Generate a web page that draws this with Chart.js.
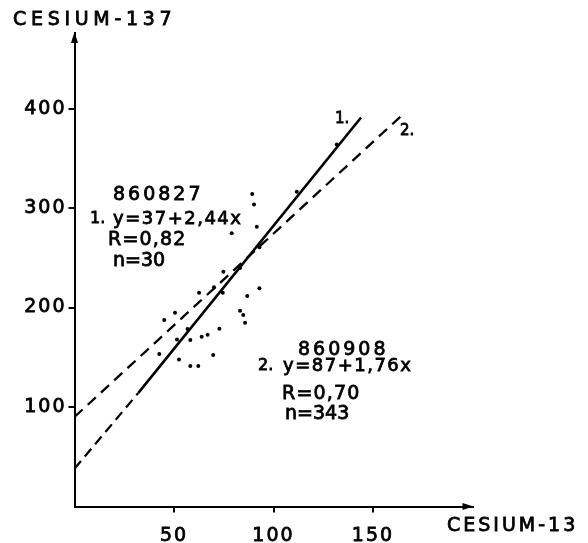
<!DOCTYPE html>
<html>
<head>
<meta charset="utf-8">
<script src="https://cdn.jsdelivr.net/npm/chart.js@4/dist/chart.umd.min.js"></script>
<style>
html,body{margin:0;padding:0;background:#fff;}
canvas{display:block;}
</style>
</head>
<body>
<canvas id="c" width="588" height="543"></canvas>
<script>
// ---- data ----
const xTicks = [50, 100, 150];
const yTicks = [100, 200, 300, 400];
const scatterX = [89.3, 90.2, 91.6, 79.0, 111.7, 131.8, 92.9, 74.8, 83.2, 70.1, 62.6, 74.5, 92.9, 86.8, 83.2, 84.8, 85.7, 50.5, 45.1, 56.8, 72.8, 66.9, 63.9, 58.2, 51.5, 42.6, 69.7, 52.5, 58.2, 62.2];
const scatterY = [314.1, 303.7, 281.2, 274.6, 316.4, 364.0, 260.5, 236.0, 239.7, 220.3, 214.9, 214.9, 219.3, 211.6, 196.8, 192.5, 184.7, 194.8, 187.4, 178.4, 178.7, 172.7, 170.7, 167.3, 167.8, 153.3, 152.3, 147.9, 141.2, 141.2];
const line1ExtX = [0, 32];
const line1ExtY = [38, 114];
const line1X = [32, 144];
const line1Y = [114, 391];
const line2X = [0, 166];
const line2Y = [90, 396];

const yTitle = "CESIUM-137";
const xTitle = "CESIUM-13";
const ann1 = ["860827", "y=37+2,44x", "R=0,82", "n=30"];
const ann2 = ["860908", "y=87+1,76x", "R=0,70", "n=343"];

const pts = (xs, ys) => xs.map((x, i) => ({x: x, y: ys[i]}));
const FONT = "'DejaVu Sans', sans-serif";

function txt(ctx, s, x, y, size, spacing, align) {
  ctx.save();
  ctx.font = size + "px " + FONT;
  ctx.letterSpacing = spacing + "px";
  ctx.fillStyle = "#000";
  ctx.strokeStyle = "#000";
  ctx.lineWidth = 0.8;
  ctx.textAlign = align || "left";
  ctx.textBaseline = "middle";
  ctx.fillText(s, x, y);
  ctx.strokeText(s, x, y);
  ctx.restore();
}

const decor = {
  id: "decor",
  beforeDraw(chart) {
    chart.ctx.letterSpacing = "2px";
  },
  afterDraw(chart) {
    const ctx = chart.ctx;
    ctx.letterSpacing = "0px";
    const xs = chart.scales.x, ys = chart.scales.y;
    const x0 = xs.getPixelForValue(0), y0 = ys.getPixelForValue(0);
    const xEnd = xs.getPixelForValue(xs.max), yEnd = ys.getPixelForValue(ys.max);
    ctx.save();
    ctx.fillStyle = "#000";
    ctx.beginPath();
    ctx.moveTo(x0, yEnd - 1);
    ctx.lineTo(x0 - 3.5, yEnd + 10);
    ctx.lineTo(x0 + 3.5, yEnd + 10);
    ctx.closePath();
    ctx.fill();
    ctx.beginPath();
    ctx.moveTo(xEnd + 1, y0);
    ctx.lineTo(xEnd - 10, y0 - 3.5);
    ctx.lineTo(xEnd - 10, y0 + 3.5);
    ctx.closePath();
    ctx.fill();
    ctx.restore();

    txt(ctx, yTitle, 13, 20, 19, 4.7);
    txt(ctx, xTitle, 447, 526, 19, 3);

    txt(ctx, ann1[0], 113, 195, 19, 3);
    txt(ctx, "1.", 90, 219, 16, 0);
    txt(ctx, ann1[1], 113, 219, 18, 1.5);
    txt(ctx, ann1[2], 108, 240, 19, 1.2);
    txt(ctx, ann1[3], 113, 261, 19, 0);

    txt(ctx, ann2[0], 298, 350, 19, 3);
    txt(ctx, "2.", 258, 366, 16, 0);
    txt(ctx, ann2[1], 283, 366, 18, 1.5);
    txt(ctx, ann2[2], 282, 394, 19, 1.2);
    txt(ctx, ann2[3], 285, 414, 19, 0);

    txt(ctx, "1.", 335, 119, 15, 0);
    txt(ctx, "2.", 400, 131, 15, 0);
  }
};

const tickFont = {family: "DejaVu Sans", size: 19};

new Chart(document.getElementById("c"), {
  type: "scatter",
  data: {
    datasets: [
      {data: pts(scatterX, scatterY), pointRadius: 2, pointBackgroundColor: "#000", pointBorderWidth: 0, showLine: false},
      {data: pts(line1ExtX, line1ExtY), showLine: true, borderColor: "#000", borderWidth: 2.2, borderDash: [10, 6], pointRadius: 0},
      {data: pts(line1X, line1Y), showLine: true, borderColor: "#000", borderWidth: 2.6, pointRadius: 0},
      {data: pts(line2X, line2Y), showLine: true, borderColor: "#000", borderWidth: 2.3, borderDash: [11, 7], pointRadius: 0}
    ]
  },
  options: {
    responsive: false,
    animation: false,
    devicePixelRatio: 1,
    layout: {padding: {top: 33, right: 115.5, left: 0, bottom: 0}},
    plugins: {legend: {display: false}, tooltip: {enabled: false}},
    scales: {
      x: {
        type: "linear", min: 0, max: 200,
        afterBuildTicks: s => { s.ticks = xTicks.map(v => ({value: v})); },
        afterFit: s => { s.height = 36.5; },
        grid: {drawOnChartArea: false, drawTicks: true, tickLength: 6, color: "#000", lineWidth: 2},
        border: {display: true, color: "#000", width: 2},
        ticks: {color: "#000", font: tickFont, padding: 12, maxRotation: 0, textStrokeColor: "#000", textStrokeWidth: 0.8}
      },
      y: {
        type: "linear", min: 0, max: 476,
        afterBuildTicks: s => { s.ticks = yTicks.map(v => ({value: v})); },
        afterFit: s => { s.width = 74.5; },
        grid: {drawOnChartArea: false, drawTicks: true, tickLength: 6, color: "#000", lineWidth: 2},
        border: {display: true, color: "#000", width: 2},
        ticks: {color: "#000", font: tickFont, padding: 2, textStrokeColor: "#000", textStrokeWidth: 0.8}
      }
    }
  },
  plugins: [decor]
});
</script>
</body>
</html>
